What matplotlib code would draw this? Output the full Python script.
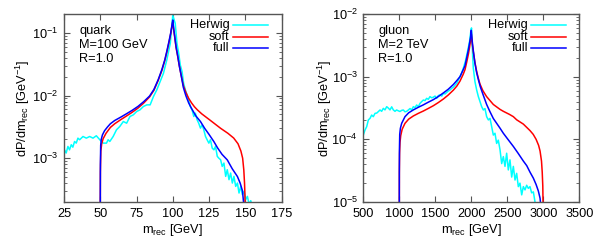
import matplotlib
matplotlib.use("Agg")
import matplotlib.pyplot as plt
from matplotlib.ticker import FixedLocator, LogLocator, NullFormatter

plt.rcParams['font.family'] = ['Liberation Sans', 'DejaVu Sans']
plt.rcParams['mathtext.fontset'] = 'custom'
plt.rcParams['mathtext.rm'] = 'Liberation Sans'
plt.rcParams['mathtext.it'] = 'Liberation Sans:italic'
plt.rcParams['mathtext.default'] = 'regular'

# ---------------- quark panel data ----------------
q_herwig_x = [25.0, 25.35, 26.5, 27.7, 28.8, 30.0, 31.1, 32.3, 33.45, 34.6, 35.8, 38.1, 40.4, 42.7,
              45.0, 47.3, 49.7, 50.8, 52.0, 54.3, 55.4, 56.6, 58.9, 61.2, 63.5, 65.9, 68.2, 70.5,
              72.8, 75.1, 77.4, 79.75, 82.1, 84.4, 86.7, 89.0, 91.3, 93.6, 95.9, 98.3, 100.0,
              101.7, 102.9, 104.1, 105.2, 106.4, 107.5, 108.7, 109.8, 111.0, 112.1, 113.3, 114.5,
              115.6, 116.8, 117.9, 119.1, 120.3, 121.4, 122.6, 123.7, 124.9, 126.0, 127.2, 128.4,
              129.5, 130.7, 131.8, 133.0, 134.1, 135.3, 136.5, 137.6, 138.8, 139.9, 141.1, 142.2,
              143.4, 144.6, 145.7, 146.9, 148.0, 149.2, 150.3, 151.5, 152.7, 153.8, 155.0]
q_herwig_y = [1.00e-3, 1.36e-3, 1.21e-3, 1.54e-3, 1.36e-3, 1.64e-3, 1.50e-3, 1.85e-3, 1.74e-3,
              2.09e-3, 1.97e-3, 2.22e-3, 2.09e-3, 2.22e-3, 2.09e-3, 2.28e-3, 1.97e-3, 1.85e-3,
              1.74e-3, 1.74e-3, 1.97e-3, 1.85e-3, 2.22e-3, 2.84e-3, 3.21e-3, 3.85e-3, 3.62e-3,
              4.63e-3, 4.92e-3, 5.56e-3, 5.91e-3, 6.68e-3, 7.10e-3, 7.10e-3, 9.64e-3, 1.23e-2,
              1.67e-2, 2.27e-2, 3.70e-2, 6.80e-2, 0.19,
              0.142, 0.068, 0.0473, 0.0308, 0.0241, 0.0157, 0.0123, 0.0103, 0.00853, 0.00668,
              0.00591, 0.00463, 0.00523, 0.00410, 0.00362, 0.00302, 0.00341, 0.00284, 0.00222,
              0.00197, 0.00174, 0.00197, 0.00145, 0.00136, 0.00154, 0.00107, 0.00100, 0.000945,
              0.000740, 0.000836, 0.000513, 0.000655, 0.000454, 0.000579, 0.000401, 0.000513,
              0.000355, 0.000401, 0.000278, 0.000355, 0.000262, 0.000296, 0.000218, 0.000246,
              0.000181, 0.00021, 0.00016]

q_soft_x = [50.0, 50.1, 50.4, 51.0, 52.0, 54.0, 57.0, 60.0, 64.0, 68.0, 72.0, 76.0, 80.0, 84.0,
            87.0, 90.0, 92.5, 94.5, 96.0, 97.5, 98.6, 99.4, 100.0, 100.6, 101.3, 102.3, 103.5,
            104.5, 105.8, 107.3, 109.0, 111.0, 113.0, 115.0, 117.0, 120.0, 126.0, 133.0, 138.0,
            142.0, 145.0, 147.0, 148.2, 149.0, 149.5, 149.8, 150.0]
q_soft_y = [1e-4, 6e-4, 1.3e-3, 1.7e-3, 2.05e-3, 2.5e-3, 3.1e-3, 3.55e-3, 4.1e-3, 4.7e-3, 5.4e-3,
            6.3e-3, 7.6e-3, 9.5e-3, 0.0121, 0.0175, 0.025, 0.036, 0.050, 0.072, 0.097, 0.125, 0.15,
            0.115, 0.087, 0.058, 0.041, 0.030, 0.021, 0.0145, 0.0113, 0.0090, 0.0076, 0.0066,
            0.0059, 0.0051, 0.0040, 0.0030, 0.0025, 0.0021, 0.0017, 0.0013, 0.0010, 6.5e-4,
            4e-4, 2.5e-4, 1e-4]

q_full_x = [50.0, 50.1, 50.3, 50.7, 51.5, 53.0, 55.0, 57.0, 60.0, 64.0, 68.0, 72.0, 76.0, 80.0,
            84.0, 87.0, 90.0, 92.5, 94.5, 96.0, 97.5, 98.6, 99.4, 100.0, 100.6, 101.3, 102.3,
            103.5, 104.5, 105.8, 107.3, 109.0, 111.0, 113.0, 116.0, 119.1, 122.0, 125.0, 128.3,
            131.0, 134.0, 137.6, 141.0, 144.6, 146.5, 148.1, 148.8, 149.2]
q_full_y = [1e-4, 8e-4, 1.6e-3, 2.0e-3, 2.35e-3, 2.75e-3, 3.15e-3, 3.55e-3, 4.0e-3, 4.5e-3,
            5.1e-3, 5.8e-3, 6.7e-3, 8.0e-3, 9.8e-3, 0.0125, 0.018, 0.026, 0.037, 0.052, 0.075,
            0.10, 0.13, 0.16, 0.12, 0.09, 0.06, 0.042, 0.030, 0.021, 0.0135, 0.0100, 0.0076,
            0.0062, 0.0047, 0.00385, 0.0030, 0.0024, 0.00185, 0.00145, 0.00115, 9.4e-4, 6.8e-4,
            5.1e-4, 4.0e-4, 3.0e-4, 2.0e-4, 1e-4]

# ---------------- gluon panel data ----------------
g_herwig_x = [500, 524, 547, 570, 593, 616, 639, 663, 686, 709, 732, 755, 778, 801, 825, 848,
              871, 894, 917, 940, 963, 987, 1010, 1033, 1056, 1079, 1102, 1126, 1149, 1172, 1195,
              1218, 1241, 1264, 1288, 1311, 1334, 1357, 1380, 1403, 1426, 1450, 1473, 1496, 1519,
              1542, 1565, 1590, 1612, 1635, 1658, 1681, 1704, 1727, 1751, 1774, 1797, 1820, 1843,
              1866, 1889, 1920, 1950, 1975, 1995, 2003,
              2019, 2028, 2051, 2075, 2098, 2121, 2144, 2167, 2190, 2213, 2237, 2260, 2283, 2306,
              2329, 2352, 2375, 2399, 2422, 2445, 2468, 2491, 2514, 2537, 2561, 2584, 2607, 2630,
              2653, 2676, 2700, 2723, 2746, 2769, 2792, 2815, 2838, 2862, 2885, 2908]
g_herwig_y = [1.17e-4, 1.41e-4, 1.59e-4, 2.04e-4, 2.16e-4, 2.44e-4, 2.30e-4, 2.60e-4, 2.62e-4,
              2.77e-4, 2.94e-4, 2.80e-4, 3.12e-4, 2.95e-4, 3.32e-4, 3.15e-4, 2.95e-4, 3.30e-4,
              2.95e-4, 2.80e-4, 2.94e-4, 2.85e-4, 2.78e-4, 2.90e-4, 2.94e-4, 2.75e-4, 2.80e-4,
              2.94e-4, 3.10e-4, 2.95e-4, 3.32e-4, 3.20e-4, 3.53e-4, 3.32e-4, 3.76e-4, 4.00e-4,
              4.24e-4, 4.15e-4, 4.51e-4, 4.35e-4, 4.80e-4, 4.60e-4, 4.70e-4, 4.90e-4, 4.50e-4,
              5.00e-4, 5.10e-4, 4.90e-4, 5.42e-4, 5.30e-4, 5.60e-4, 5.90e-4, 6.12e-4, 6.50e-4,
              6.80e-4, 7.30e-4, 7.83e-4, 8.80e-4, 1.00e-3, 1.15e-3, 1.36e-3, 1.80e-3, 2.60e-3,
              3.60e-3, 5.50e-3, 6.00e-3,
              2.1e-3, 1.36e-3, 8.3e-4, 6.1e-4, 4.8e-4, 4.0e-4, 3.32e-4, 2.94e-4, 3.1e-4, 2.3e-4,
              2.04e-4, 2.16e-4, 1.59e-4, 1.17e-4, 1.25e-4, 8.6e-5, 9.7e-5, 6.8e-5, 4.1e-5, 5.3e-5,
              3.7e-5, 6.0e-5, 3.25e-5, 4.7e-5, 2.5e-5, 3.7e-5, 2.24e-5, 2.87e-5, 1.76e-5, 2.0e-5,
              1.3e-5, 1.76e-5, 1.56e-5, 1.85e-5, 1.65e-5, 1.76e-5, 1.4e-5, 1.45e-5, 1.0e-5, 8e-6]

g_soft_x = [1000, 1001, 1004, 1010, 1020, 1040, 1079, 1130, 1195, 1265, 1334, 1400, 1473, 1540,
            1612, 1680, 1751, 1800, 1843, 1889, 1913, 1936, 1960, 1975, 1990, 2000,
            2008, 2015, 2028, 2050, 2075, 2100, 2121, 2160, 2213, 2306, 2400, 2445, 2530, 2584,
            2630, 2723, 2815, 2860, 2900, 2935, 2955, 2975, 2985, 2993, 3000]
g_soft_y = [5e-6, 3e-5, 6e-5, 9e-5, 1.15e-4, 1.45e-4, 1.8e-4, 2.1e-4, 2.36e-4, 2.6e-4, 2.83e-4,
            3.1e-4, 3.44e-4, 3.85e-4, 4.4e-4, 5.1e-4, 6.1e-4, 7.1e-4, 8.5e-4, 1.1e-3, 1.3e-3,
            1.7e-3, 2.3e-3, 2.9e-3, 3.8e-3, 4.8e-3,
            3.9e-3, 3.2e-3, 2.5e-3, 1.7e-3, 1.2e-3, 9.2e-4, 7.6e-4, 6.0e-4, 4.8e-4, 3.6e-4,
            3.0e-4, 2.8e-4, 2.5e-4, 2.3e-4, 2.05e-4, 1.75e-4, 1.38e-4, 1.2e-4, 1.0e-4, 8e-5,
            6.5e-5, 4.5e-5, 3e-5, 1.8e-5, 5e-6]

g_full_x = [1000, 1000.5, 1002, 1006, 1015, 1033, 1079, 1130, 1195, 1265, 1334, 1400, 1473,
            1540, 1612, 1680, 1751, 1800, 1843, 1889, 1913, 1936, 1960, 1975, 1990, 2000,
            2008, 2015, 2028, 2050, 2075, 2100, 2125, 2160, 2213, 2260, 2306, 2400, 2445, 2500,
            2584, 2650, 2723, 2770, 2815, 2862, 2900, 2931, 2955, 2968]
g_full_y = [5e-6, 3e-5, 7e-5, 1.2e-4, 1.5e-4, 1.8e-4, 2.3e-4, 2.65e-4, 2.95e-4, 3.25e-4, 3.55e-4,
            3.9e-4, 4.3e-4, 4.8e-4, 5.5e-4, 6.3e-4, 7.5e-4, 8.7e-4, 1.0e-3, 1.3e-3, 1.5e-3,
            2.0e-3, 2.7e-3, 3.4e-3, 4.3e-3, 5.5e-3,
            4.2e-3, 3.5e-3, 2.6e-3, 1.65e-3, 1.15e-3, 8.8e-4, 6.9e-4, 5.3e-4, 3.6e-4, 2.75e-4,
            2.15e-4, 1.5e-4, 1.25e-4, 1.03e-4, 7.7e-5, 6.0e-5, 4.5e-5, 3.8e-5, 3.0e-5, 2.4e-5,
            1.9e-5, 1.5e-5, 1.15e-5, 8e-6]

q_xticks = [25, 50, 75, 100, 125, 150, 175]
g_xticks = [500, 1000, 1500, 2000, 2500, 3000, 3500]
q_info = ["quark", "M=100 GeV", "R=1.0"]
g_info = ["gluon", "M=2 TeV", "R=1.0"]
labels = ["Herwig", "soft", "full"]
colors = ["#00ffff", "#ff0000", "#0000ff"]

W, H = 598, 252
fig = plt.figure(figsize=(W / 100, H / 100), dpi=100)
axq = fig.add_axes([64 / W, 1 - 202 / H, 217.5 / W, 188 / H])
axg = fig.add_axes([363.3 / W, 1 - 202 / H, 216 / W, 188 / H])

FS = 9.2
frame_col = "#555555"

def style(ax, xlim, ylim, xticks, info, ylab_x):
    ax.set_yscale("log")
    ax.set_xlim(*xlim)
    ax.set_ylim(*ylim)
    ax.xaxis.set_major_locator(FixedLocator(xticks))
    ax.yaxis.set_major_locator(LogLocator(base=10, numticks=20))
    ax.yaxis.set_minor_locator(LogLocator(base=10, subs=range(2, 10), numticks=20))
    ax.yaxis.set_minor_formatter(NullFormatter())
    ax.tick_params(which="both", direction="in", top=True, right=True, colors="black",
                   labelsize=FS)
    ax.tick_params(axis="x", pad=4.5)
    ax.tick_params(axis="y", pad=4.0)
    ax.tick_params(which="major", length=4.5, width=0.8, color=frame_col)
    ax.tick_params(which="minor", length=2.3, width=0.6, color=frame_col)
    for s in ax.spines.values():
        s.set_color(frame_col)
        s.set_linewidth(1.0)
    ax.set_xlabel(r"m$_{\mathrm{rec}}$ [GeV]", fontsize=FS, labelpad=1)
    ax.set_ylabel(r"dP/dm$_{\mathrm{rec}}$ [GeV$^{-1}$]", fontsize=FS)
    ax.yaxis.set_label_coords(ylab_x, 0.5)
    for i, t in enumerate(info):
        ax.text(0.07, 0.911 - i * 0.076, t, transform=ax.transAxes, fontsize=FS,
                ha="left", va="center")
    # key (gnuplot style: right-aligned text, sample line to its right)
    for i, (lab, c) in enumerate(zip(labels, colors)):
        yk = 0.9415 - i * 0.062
        ax.text(0.762, yk, lab, transform=ax.transAxes, fontsize=FS, ha="right", va="center")
        ax.plot([0.778, 0.938], [yk, yk], transform=ax.transAxes, color=c, lw=1.1)

for ax, data in [(axq, [(q_herwig_x, q_herwig_y), (q_soft_x, q_soft_y), (q_full_x, q_full_y)]),
                 (axg, [(g_herwig_x, g_herwig_y), (g_soft_x, g_soft_y), (g_full_x, g_full_y)])]:
    for (xs, ys), lab, c in zip(data, labels, colors):
        ax.plot(xs, ys, color=c, lw=1.1, label=lab)

style(axq, (25, 175), (2e-4, 0.2), q_xticks, q_info, -0.145)
style(axg, (500, 3500), (1e-5, 1e-2), g_xticks, g_info, -0.135)

fig.savefig("out.png", dpi=100)
